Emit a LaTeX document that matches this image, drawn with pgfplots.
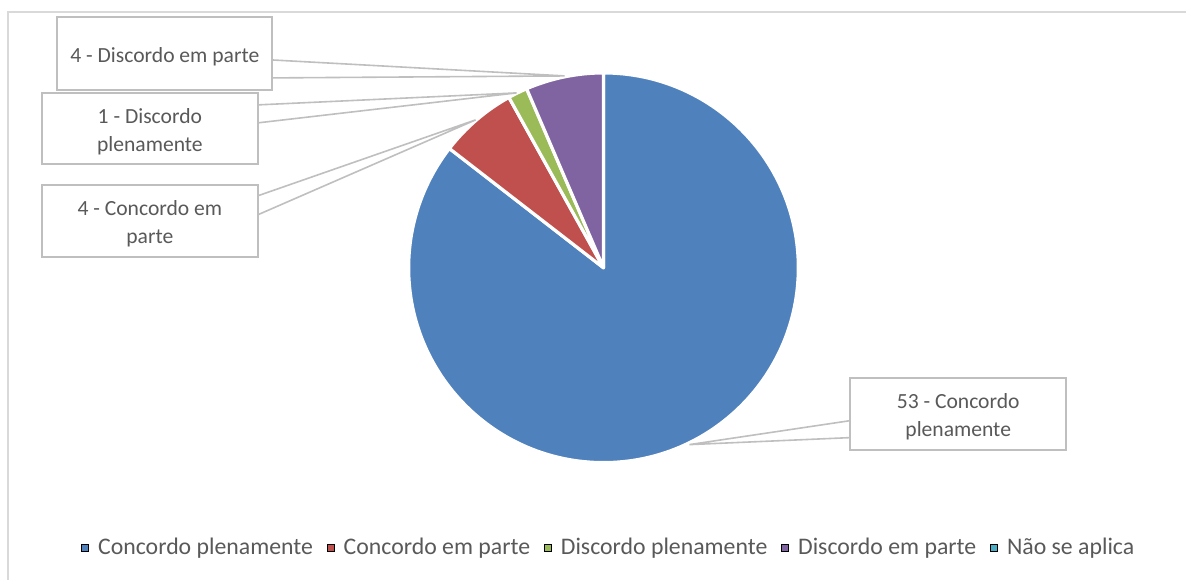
\documentclass[border=0pt]{standalone}
\usepackage{fontspec}
\setmainfont{Carlito}
\usepackage{pgfplots}
\usepackage{pgfplotstable}
\pgfplotsset{compat=1.18}
\definecolor{c1}{HTML}{4F81BD}
\definecolor{c2}{HTML}{C0504D}
\definecolor{c3}{HTML}{9BBB59}
\definecolor{c4}{HTML}{8064A2}
\definecolor{c5}{HTML}{4BACC6}
\definecolor{tgray}{HTML}{595959}
\definecolor{bgray}{HTML}{BFBFBF}
\definecolor{fgray}{HTML}{D9D9D9}
\pgfplotstableread[col sep=comma]{
label,value
Concordo plenamente,53
Concordo em parte,4
Discordo plenamente,1
Discordo em parte,4
Não se aplica,0
}\piedata
\begin{document}%
\begin{tikzpicture}
\pgfplotstablegetelem{0}{value}\of\piedata\let\va\pgfplotsretval
\pgfplotstablegetelem{1}{value}\of\piedata\let\vb\pgfplotsretval
\pgfplotstablegetelem{2}{value}\of\piedata\let\vc\pgfplotsretval
\pgfplotstablegetelem{3}{value}\of\piedata\let\vd\pgfplotsretval
\pgfplotstablegetelem{4}{value}\of\piedata\let\ve\pgfplotsretval
\pgfmathsetmacro\tot{\va+\vb+\vc+\vd+\ve}
\pgfmathsetmacro\aA{90}
\pgfmathsetmacro\aB{\aA-360*(\va/\tot)}
\pgfmathsetmacro\aC{\aB-360*(\vb/\tot)}
\pgfmathsetmacro\aD{\aC-360*(\vc/\tot)}
\pgfmathsetmacro\aE{\aD-360*(\vd/\tot)}
\begin{axis}[
  x=0.5pt, y=0.5pt, xmin=0, xmax=1187, ymin=0, ymax=580,
  hide axis, clip=false,
  legend image code/.code={\fill[#1] (0pt,-1.8pt) rectangle (3.6pt,1.8pt);},
  legend style={at={(0.514,0.055)}, anchor=center, draw=none, fill=none,
    font=\fontsize{11.9}{13}\selectfont, text=tgray, legend columns=-1,
    /tikz/every odd column/.append style={column sep=2.6pt},
    /tikz/every even column/.append style={column sep=4.8pt}},
]
\path (axis cs:0,0) rectangle (axis cs:1187,580);
% outer frame
\draw[fgray, line width=1pt] (axis cs:8,0) -- (axis cs:8,568) -- (axis cs:1187,568);
% slices
\def\R{97.5pt}
\filldraw[fill=c1, draw=white, line width=1.6pt, line join=round] (axis cs:604,312) -- ++(\aA:\R) arc[start angle=\aA, end angle=\aB, radius=\R] -- cycle;
\filldraw[fill=c2, draw=white, line width=1.6pt, line join=round] (axis cs:604,312) -- ++(\aB:\R) arc[start angle=\aB, end angle=\aC, radius=\R] -- cycle;
\filldraw[fill=c3, draw=white, line width=1.6pt, line join=round] (axis cs:604,312) -- ++(\aC:\R) arc[start angle=\aC, end angle=\aD, radius=\R] -- cycle;
\filldraw[fill=c4, draw=white, line width=1.6pt, line join=round] (axis cs:604,312) -- ++(\aD:\R) arc[start angle=\aD, end angle=\aE, radius=\R] -- cycle;
% callouts
\tikzset{cl/.style={bgray, line width=0.8pt}, bx/.style={bgray, line width=0.9pt, fill=white},
  lt/.style={text=tgray, font=\fontsize{10.8}{14}\selectfont, align=center}}
\draw[cl] (axis cs:272,520) -- (axis cs:565,504) -- (axis cs:272,502);
\draw[bx] (axis cs:57,563) rectangle (axis cs:272,490);
\node[lt] at (axis cs:165,523) {4 - Discordo em parte};
\draw[cl] (axis cs:258,475) -- (axis cs:517,487) -- (axis cs:258,457);
\draw[bx] (axis cs:42,487) rectangle (axis cs:258,416);
\node[lt] at (axis cs:150,448) {1 - Discordo\\plenamente};
\draw[cl] (axis cs:258,384) -- (axis cs:476,460) -- (axis cs:258,365);
\draw[bx] (axis cs:42,395) rectangle (axis cs:258,323);
\node[lt] at (axis cs:150,356) {4 - Concordo em\\parte};
\draw[cl] (axis cs:851,159) -- (axis cs:690,135) -- (axis cs:851,142);
\draw[bx] (axis cs:851,202) rectangle (axis cs:1067,130);
\node[lt] at (axis cs:959,163) {53 - Concordo\\plenamente};
% legend
\addlegendimage{fill=c1}\addlegendentry{Concordo plenamente}
\addlegendimage{fill=c2}\addlegendentry{Concordo em parte}
\addlegendimage{fill=c3}\addlegendentry{Discordo plenamente}
\addlegendimage{fill=c4}\addlegendentry{Discordo em parte}
\addlegendimage{fill=c5}\addlegendentry{Não se aplica}
\end{axis}
\end{tikzpicture}%
\end{document}
